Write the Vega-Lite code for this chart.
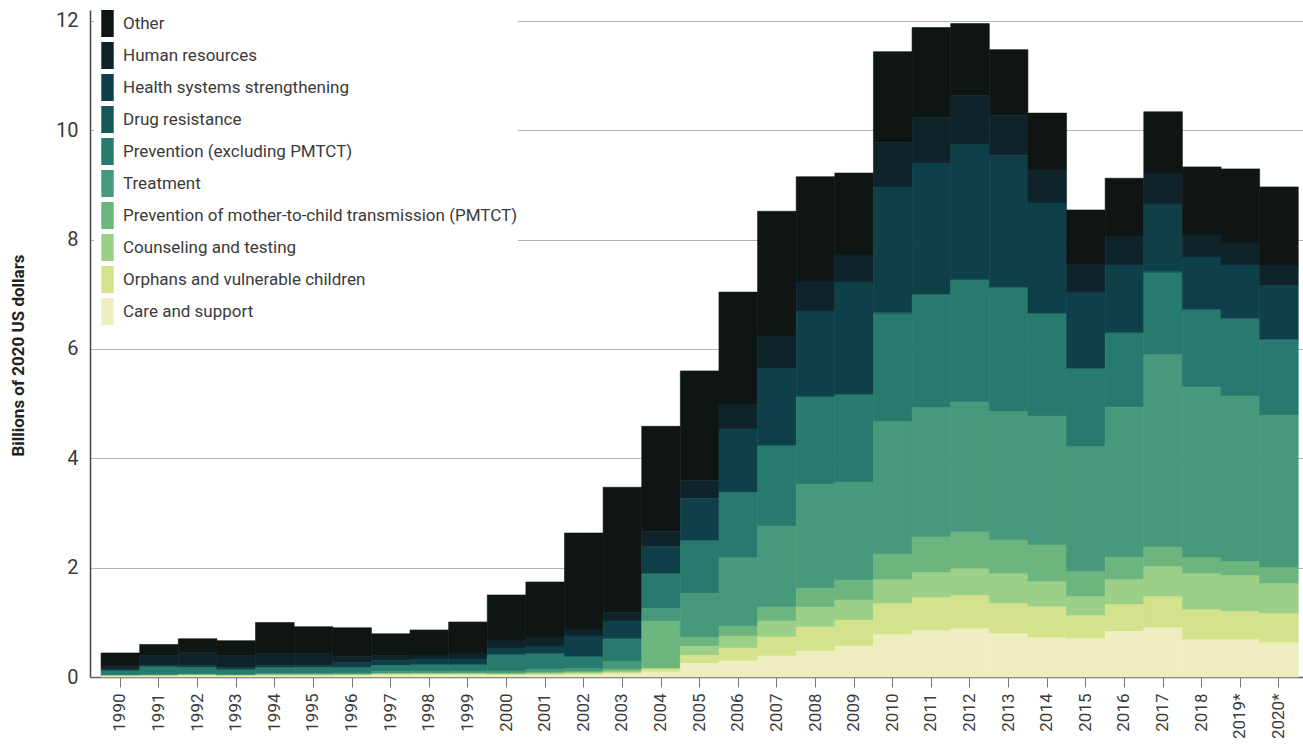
{
  "$schema": "https://vega.github.io/schema/vega-lite/v6.json",
  "width": 1213,
  "height": 667,
  "autosize": {"type": "none"},
  "padding": {"left": 90, "top": 10, "right": 0, "bottom": 68},
  "background": "white",
  "config": {
    "view": {"stroke": null},
    "font": "Roboto, sans-serif"
  },
  "datasets": {
    "ranks": [
      {"category": "Care and support", "rank": 0},
      {"category": "Orphans and vulnerable children", "rank": 1},
      {"category": "Counseling and testing", "rank": 2},
      {"category": "Prevention of mother-to-child transmission (PMTCT)", "rank": 3},
      {"category": "Treatment", "rank": 4},
      {"category": "Prevention (excluding PMTCT)", "rank": 5},
      {"category": "Drug resistance", "rank": 6},
      {"category": "Health systems strengthening", "rank": 7},
      {"category": "Human resources", "rank": 8},
      {"category": "Other", "rank": 9}
    ]
  },
  "data": {
    "values": [
      {"year": "1990", "Care and support": 0.01, "Orphans and vulnerable children": 0.005, "Counseling and testing": 0.01, "Prevention of mother-to-child transmission (PMTCT)": 0.0, "Treatment": 0.01, "Prevention (excluding PMTCT)": 0.075, "Drug resistance": 0.005, "Health systems strengthening": 0.03, "Human resources": 0.045, "Other": 0.25},
      {"year": "1991", "Care and support": 0.012, "Orphans and vulnerable children": 0.005, "Counseling and testing": 0.01, "Prevention of mother-to-child transmission (PMTCT)": 0.0, "Treatment": 0.015, "Prevention (excluding PMTCT)": 0.14, "Drug resistance": 0.005, "Health systems strengthening": 0.02, "Human resources": 0.183, "Other": 0.205},
      {"year": "1992", "Care and support": 0.022, "Orphans and vulnerable children": 0.005, "Counseling and testing": 0.01, "Prevention of mother-to-child transmission (PMTCT)": 0.0, "Treatment": 0.015, "Prevention (excluding PMTCT)": 0.12, "Drug resistance": 0.005, "Health systems strengthening": 0.03, "Human resources": 0.238, "Other": 0.255},
      {"year": "1993", "Care and support": 0.013, "Orphans and vulnerable children": 0.005, "Counseling and testing": 0.01, "Prevention of mother-to-child transmission (PMTCT)": 0.0, "Treatment": 0.012, "Prevention (excluding PMTCT)": 0.09, "Drug resistance": 0.005, "Health systems strengthening": 0.035, "Human resources": 0.22, "Other": 0.275},
      {"year": "1994", "Care and support": 0.02, "Orphans and vulnerable children": 0.007, "Counseling and testing": 0.015, "Prevention of mother-to-child transmission (PMTCT)": 0.0, "Treatment": 0.02, "Prevention (excluding PMTCT)": 0.105, "Drug resistance": 0.005, "Health systems strengthening": 0.035, "Human resources": 0.22, "Other": 0.568},
      {"year": "1995", "Care and support": 0.02, "Orphans and vulnerable children": 0.007, "Counseling and testing": 0.015, "Prevention of mother-to-child transmission (PMTCT)": 0.0, "Treatment": 0.02, "Prevention (excluding PMTCT)": 0.11, "Drug resistance": 0.005, "Health systems strengthening": 0.03, "Human resources": 0.22, "Other": 0.493},
      {"year": "1996", "Care and support": 0.022, "Orphans and vulnerable children": 0.008, "Counseling and testing": 0.015, "Prevention of mother-to-child transmission (PMTCT)": 0.002, "Treatment": 0.025, "Prevention (excluding PMTCT)": 0.095, "Drug resistance": 0.005, "Health systems strengthening": 0.09, "Human resources": 0.11, "Other": 0.528},
      {"year": "1997", "Care and support": 0.035, "Orphans and vulnerable children": 0.01, "Counseling and testing": 0.015, "Prevention of mother-to-child transmission (PMTCT)": 0.005, "Treatment": 0.035, "Prevention (excluding PMTCT)": 0.11, "Drug resistance": 0.005, "Health systems strengthening": 0.085, "Human resources": 0.09, "Other": 0.4},
      {"year": "1998", "Care and support": 0.034, "Orphans and vulnerable children": 0.01, "Counseling and testing": 0.02, "Prevention of mother-to-child transmission (PMTCT)": 0.005, "Treatment": 0.04, "Prevention (excluding PMTCT)": 0.11, "Drug resistance": 0.005, "Health systems strengthening": 0.105, "Human resources": 0.073, "Other": 0.458},
      {"year": "1999", "Care and support": 0.034, "Orphans and vulnerable children": 0.01, "Counseling and testing": 0.02, "Prevention of mother-to-child transmission (PMTCT)": 0.01, "Treatment": 0.035, "Prevention (excluding PMTCT)": 0.11, "Drug resistance": 0.005, "Health systems strengthening": 0.105, "Human resources": 0.11, "Other": 0.567},
      {"year": "2000", "Care and support": 0.032, "Orphans and vulnerable children": 0.01, "Counseling and testing": 0.015, "Prevention of mother-to-child transmission (PMTCT)": 0.015, "Treatment": 0.04, "Prevention (excluding PMTCT)": 0.29, "Drug resistance": 0.005, "Health systems strengthening": 0.123, "Human resources": 0.147, "Other": 0.823},
      {"year": "2001", "Care and support": 0.035, "Orphans and vulnerable children": 0.015, "Counseling and testing": 0.02, "Prevention of mother-to-child transmission (PMTCT)": 0.02, "Treatment": 0.055, "Prevention (excluding PMTCT)": 0.275, "Drug resistance": 0.005, "Health systems strengthening": 0.142, "Human resources": 0.165, "Other": 1.006},
      {"year": "2002", "Care and support": 0.04, "Orphans and vulnerable children": 0.02, "Counseling and testing": 0.02, "Prevention of mother-to-child transmission (PMTCT)": 0.015, "Treatment": 0.055, "Prevention (excluding PMTCT)": 0.215, "Drug resistance": 0.005, "Health systems strengthening": 0.38, "Human resources": 0.128, "Other": 1.756},
      {"year": "2003", "Care and support": 0.06, "Orphans and vulnerable children": 0.02, "Counseling and testing": 0.03, "Prevention of mother-to-child transmission (PMTCT)": 0.03, "Treatment": 0.153, "Prevention (excluding PMTCT)": 0.396, "Drug resistance": 0.024, "Health systems strengthening": 0.311, "Human resources": 0.159, "Other": 2.287},
      {"year": "2004", "Care and support": 0.091, "Orphans and vulnerable children": 0.049, "Counseling and testing": 0.025, "Prevention of mother-to-child transmission (PMTCT)": 0.853, "Treatment": 0.238, "Prevention (excluding PMTCT)": 0.622, "Drug resistance": 0.018, "Health systems strengthening": 0.494, "Human resources": 0.275, "Other": 1.92},
      {"year": "2005", "Care and support": 0.25, "Orphans and vulnerable children": 0.146, "Counseling and testing": 0.165, "Prevention of mother-to-child transmission (PMTCT)": 0.165, "Treatment": 0.805, "Prevention (excluding PMTCT)": 0.958, "Drug resistance": 0.012, "Health systems strengthening": 0.768, "Human resources": 0.33, "Other": 2.0},
      {"year": "2006", "Care and support": 0.293, "Orphans and vulnerable children": 0.237, "Counseling and testing": 0.22, "Prevention of mother-to-child transmission (PMTCT)": 0.183, "Treatment": 1.25, "Prevention (excluding PMTCT)": 1.189, "Drug resistance": 0.012, "Health systems strengthening": 1.153, "Human resources": 0.457, "Other": 2.046},
      {"year": "2007", "Care and support": 0.384, "Orphans and vulnerable children": 0.348, "Counseling and testing": 0.292, "Prevention of mother-to-child transmission (PMTCT)": 0.256, "Treatment": 1.482, "Prevention (excluding PMTCT)": 1.464, "Drug resistance": 0.018, "Health systems strengthening": 1.408, "Human resources": 0.586, "Other": 2.28},
      {"year": "2008", "Care and support": 0.476, "Orphans and vulnerable children": 0.439, "Counseling and testing": 0.365, "Prevention of mother-to-child transmission (PMTCT)": 0.348, "Treatment": 1.902, "Prevention (excluding PMTCT)": 1.59, "Drug resistance": 0.02, "Health systems strengthening": 1.555, "Human resources": 0.546, "Other": 1.91},
      {"year": "2009", "Care and support": 0.567, "Orphans and vulnerable children": 0.476, "Counseling and testing": 0.366, "Prevention of mother-to-child transmission (PMTCT)": 0.365, "Treatment": 1.793, "Prevention (excluding PMTCT)": 1.592, "Drug resistance": 0.018, "Health systems strengthening": 2.046, "Human resources": 0.495, "Other": 1.5},
      {"year": "2010", "Care and support": 0.773, "Orphans and vulnerable children": 0.566, "Counseling and testing": 0.438, "Prevention of mother-to-child transmission (PMTCT)": 0.475, "Treatment": 2.416, "Prevention (excluding PMTCT)": 1.972, "Drug resistance": 0.027, "Health systems strengthening": 2.297, "Human resources": 0.806, "Other": 1.668},
      {"year": "2011", "Care and support": 0.846, "Orphans and vulnerable children": 0.603, "Counseling and testing": 0.456, "Prevention of mother-to-child transmission (PMTCT)": 0.657, "Treatment": 2.362, "Prevention (excluding PMTCT)": 2.056, "Drug resistance": 0.023, "Health systems strengthening": 2.389, "Human resources": 0.843, "Other": 1.643},
      {"year": "2012", "Care and support": 0.883, "Orphans and vulnerable children": 0.602, "Counseling and testing": 0.493, "Prevention of mother-to-child transmission (PMTCT)": 0.676, "Treatment": 2.373, "Prevention (excluding PMTCT)": 2.223, "Drug resistance": 0.028, "Health systems strengthening": 2.456, "Human resources": 0.898, "Other": 1.319},
      {"year": "2013", "Care and support": 0.791, "Orphans and vulnerable children": 0.548, "Counseling and testing": 0.548, "Prevention of mother-to-child transmission (PMTCT)": 0.621, "Treatment": 2.349, "Prevention (excluding PMTCT)": 2.243, "Drug resistance": 0.031, "Health systems strengthening": 2.401, "Human resources": 0.733, "Other": 1.21},
      {"year": "2014", "Care and support": 0.718, "Orphans and vulnerable children": 0.566, "Counseling and testing": 0.457, "Prevention of mother-to-child transmission (PMTCT)": 0.675, "Treatment": 2.356, "Prevention (excluding PMTCT)": 1.858, "Drug resistance": 0.025, "Health systems strengthening": 2.016, "Human resources": 0.604, "Other": 1.039},
      {"year": "2015", "Care and support": 0.7, "Orphans and vulnerable children": 0.42, "Counseling and testing": 0.347, "Prevention of mother-to-child transmission (PMTCT)": 0.456, "Treatment": 2.289, "Prevention (excluding PMTCT)": 1.412, "Drug resistance": 0.024, "Health systems strengthening": 1.392, "Human resources": 0.513, "Other": 0.989},
      {"year": "2016", "Care and support": 0.834, "Orphans and vulnerable children": 0.487, "Counseling and testing": 0.456, "Prevention of mother-to-child transmission (PMTCT)": 0.42, "Treatment": 2.739, "Prevention (excluding PMTCT)": 1.344, "Drug resistance": 0.02, "Health systems strengthening": 1.235, "Human resources": 0.531, "Other": 1.057},
      {"year": "2017", "Care and support": 0.901, "Orphans and vulnerable children": 0.566, "Counseling and testing": 0.548, "Prevention of mother-to-child transmission (PMTCT)": 0.365, "Treatment": 3.512, "Prevention (excluding PMTCT)": 1.498, "Drug resistance": 0.035, "Health systems strengthening": 1.227, "Human resources": 0.568, "Other": 1.118},
      {"year": "2018", "Care and support": 0.682, "Orphans and vulnerable children": 0.547, "Counseling and testing": 0.658, "Prevention of mother-to-child transmission (PMTCT)": 0.292, "Treatment": 3.122, "Prevention (excluding PMTCT)": 1.399, "Drug resistance": 0.028, "Health systems strengthening": 0.953, "Human resources": 0.403, "Other": 1.246},
      {"year": "2019*", "Care and support": 0.682, "Orphans and vulnerable children": 0.511, "Counseling and testing": 0.657, "Prevention of mother-to-child transmission (PMTCT)": 0.256, "Treatment": 3.031, "Prevention (excluding PMTCT)": 1.403, "Drug resistance": 0.023, "Health systems strengthening": 0.972, "Human resources": 0.403, "Other": 1.356},
      {"year": "2020*", "Care and support": 0.627, "Orphans and vulnerable children": 0.529, "Counseling and testing": 0.548, "Prevention of mother-to-child transmission (PMTCT)": 0.292, "Treatment": 2.794, "Prevention (excluding PMTCT)": 1.363, "Drug resistance": 0.025, "Health systems strengthening": 0.99, "Human resources": 0.367, "Other": 1.429}
    ]
  },
  "transform": [
    {"fold": ["Other", "Human resources", "Health systems strengthening", "Drug resistance", "Prevention (excluding PMTCT)", "Treatment", "Prevention of mother-to-child transmission (PMTCT)", "Counseling and testing", "Orphans and vulnerable children", "Care and support"], "as": ["category", "value"]},
    {"lookup": "category", "from": {"data": {"name": "ranks"}, "key": "category", "fields": ["rank"]}}
  ],
  "mark": {"type": "bar", "strokeWidth": 0.6},
  "encoding": {
    "x": {
      "field": "year",
      "type": "ordinal",
      "scale": {"paddingInner": 0, "paddingOuter": 0.2046, "align": 0.7},
      "axis": {
        "title": null,
        "labelAngle": 270,
        "labelAlign": "right",
        "labelBaseline": "middle",
        "labelFontSize": 17,
        "labelColor": "#3a3a3a",
        "labelPadding": 6,
        "tickColor": "#777777",
        "tickSize": 10,
        "domainColor": "#666666",
        "domainWidth": 1.5
      }
    },
    "y": {
      "field": "value",
      "type": "quantitative",
      "stack": "zero",
      "scale": {"domain": [0, 12.2], "nice": false},
      "axis": {
        "title": "Billions of 2020 US dollars",
        "titleFontWeight": "bold",
        "titleFontSize": 17,
        "titleColor": "#222222",
        "titleX": -72,
        "titleY": 345,
        "titleAngle": 270,
        "titleAlign": "center",
        "titleBaseline": "middle",
        "values": [0, 2, 4, 6, 8, 10, 12],
        "labelFontSize": 20,
        "labelColor": "#3a3a3a",
        "labelPadding": 12,
        "ticks": false,
        "grid": true,
        "gridColor": "#b5b5b5",
        "gridWidth": 1,
        "domainColor": "#444444",
        "domainWidth": 1.5
      }
    },
    "order": {"field": "rank", "type": "quantitative", "sort": "ascending"},
    "color": {
      "field": "category",
      "type": "nominal",
      "scale": {
        "domain": ["Other", "Human resources", "Health systems strengthening", "Drug resistance", "Prevention (excluding PMTCT)", "Treatment", "Prevention of mother-to-child transmission (PMTCT)", "Counseling and testing", "Orphans and vulnerable children", "Care and support"],
        "range": ["#0f1513", "#0f232a", "#0f3f48", "#17585b", "#267b6e", "#46997a", "#6cb57e", "#9ccf87", "#d4e38b", "#efeec1"]
      },
      "legend": {
        "title": null,
        "orient": "none",
        "legendX": 4,
        "legendY": 0,
        "padding": 0,
        "fillColor": "white",
        "symbolType": "M-0.46,-1H0.46V1H-0.46Z",
        "symbolSize": 729,
        "symbolStrokeWidth": 0,
        "symbolOpacity": 1,
        "rowPadding": 5,
        "labelFontSize": 17,
        "labelColor": "#3a3a3a",
        "labelOffset": 2,
        "labelLimit": 600
      }
    },
    "stroke": {
      "field": "category",
      "type": "nominal",
      "scale": {
        "domain": ["Other", "Human resources", "Health systems strengthening", "Drug resistance", "Prevention (excluding PMTCT)", "Treatment", "Prevention of mother-to-child transmission (PMTCT)", "Counseling and testing", "Orphans and vulnerable children", "Care and support"],
        "range": ["#0f1513", "#0f232a", "#0f3f48", "#17585b", "#267b6e", "#46997a", "#6cb57e", "#9ccf87", "#d4e38b", "#efeec1"]
      },
      "legend": null
    }
  }
}
